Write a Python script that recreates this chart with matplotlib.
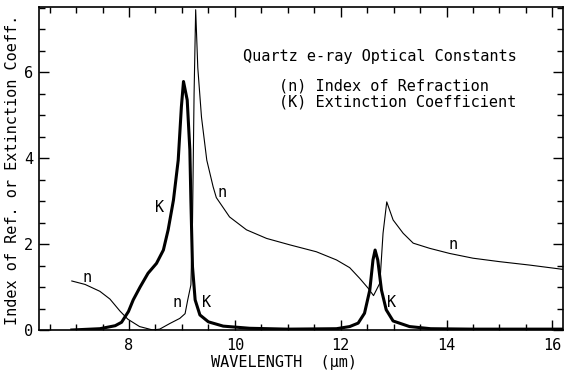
import matplotlib
matplotlib.use("Agg")
import matplotlib.pyplot as plt

FONT = "DejaVu Sans Mono"
FS = 11

n_wl = [6.92, 7.17, 7.45, 7.64, 7.83, 7.98, 8.20, 8.45, 8.58, 8.77, 8.96, 9.06,
        9.11, 9.17, 9.20, 9.23, 9.26, 9.30, 9.37, 9.47, 9.59, 9.65, 9.90, 10.22,
        10.60, 11.04, 11.54, 11.92, 12.17, 12.36, 12.52, 12.62, 12.74, 12.80,
        12.87, 12.99, 13.18, 13.37, 13.68, 14.06, 14.50, 15.00, 15.57, 16.20]
n_val = [1.14, 1.06, 0.90, 0.72, 0.44, 0.25, 0.08, 0.00, 0.02, 0.15, 0.27, 0.38,
         0.70, 1.05, 2.50, 5.50, 7.45, 6.10, 4.95, 3.95, 3.33, 3.08, 2.63, 2.33,
         2.13, 1.98, 1.82, 1.63, 1.45, 1.20, 0.97, 0.80, 1.09, 2.25,
         2.98, 2.56, 2.25, 2.02, 1.90, 1.78, 1.67, 1.59, 1.51, 1.41]

k_wl = [6.92, 7.45, 7.74, 7.86, 7.99, 8.08, 8.21, 8.36, 8.52, 8.65, 8.74, 8.84,
        8.93, 8.99, 9.03, 9.10, 9.15, 9.17, 9.20, 9.25, 9.34, 9.50, 9.78, 10.28,
        11.00, 11.92, 12.17, 12.33, 12.45, 12.55, 12.61, 12.65, 12.70, 12.77,
        12.86, 12.99, 13.30, 13.70, 14.50, 16.20]
k_val = [0.00, 0.03, 0.10, 0.18, 0.43, 0.70, 1.00, 1.32, 1.55, 1.86, 2.33, 3.02,
         3.95, 5.19, 5.78, 5.35, 4.19, 3.00, 1.47, 0.70, 0.35, 0.19, 0.09, 0.04,
         0.02, 0.03, 0.08, 0.16, 0.39, 0.93, 1.63, 1.86, 1.63, 0.93,
         0.47, 0.21, 0.08, 0.03, 0.02, 0.02]

curve_labels = ["n", "K", "n", "n", "K", "n", "K"]
curve_label_x = [7.20, 8.58, 9.75, 8.90, 9.47, 14.12, 12.96]
curve_label_y = [1.21, 2.86, 3.19, 0.63, 0.63, 1.98, 0.63]

x_ticks = [8, 10, 12, 14, 16]
y_ticks = [0, 2, 4, 6]

fig = plt.figure(figsize=(5.65, 3.71), dpi=100)
ax = fig.add_axes([39/565, 1-330/371, 524/565, (330-6.7)/371])

ax.plot(n_wl, n_val, color="black", lw=0.8)
ax.plot(k_wl, k_val, color="black", lw=2.2)

for s, x, y in zip(curve_labels, curve_label_x, curve_label_y):
    ax.text(x, y, s, fontfamily=FONT, fontsize=FS, ha="center", va="center")

ax.set_xlim(6.3, 16.2)
ax.set_ylim(0, 7.52)
ax.set_xticks(x_ticks)
ax.set_yticks(y_ticks)
ax.set_xticks([v/2 for v in range(13, 33)], minor=True)
ax.set_yticks([v/2 for v in range(0, 16)], minor=True)
ax.tick_params(which="both", direction="in", top=True, right=True, width=1.0)
ax.tick_params(which="major", length=7)
ax.tick_params(which="minor", length=4)
ax.tick_params(axis="x", pad=6)
ax.tick_params(axis="y", pad=4)
for lab in ax.get_xticklabels() + ax.get_yticklabels():
    lab.set_fontfamily(FONT)
    lab.set_fontsize(FS)
for sp in ax.spines.values():
    sp.set_linewidth(1.2)

ax.set_xlabel("WAVELENGTH  (\u03bcm)", fontfamily=FONT, fontsize=FS, va="center")
ax.xaxis.set_label_coords(0.467, -0.100)
ax.set_ylabel("Index of Ref. or Extinction Coeff.", fontfamily=FONT, fontsize=FS,
              va="center")
ax.yaxis.set_label_coords(-0.0515, 0.494)

fig.text(380/565, 1-57/371, "Quartz e-ray Optical Constants", fontfamily=FONT,
         fontsize=FS, ha="center", va="center")
fig.text(279/565, 1-86/371, "(n) Index of Refraction", fontfamily=FONT,
         fontsize=FS, ha="left", va="center")
fig.text(279/565, 1-102/371, "(K) Extinction Coefficient", fontfamily=FONT,
         fontsize=FS, ha="left", va="center")

fig.savefig("out.png", dpi=100)
